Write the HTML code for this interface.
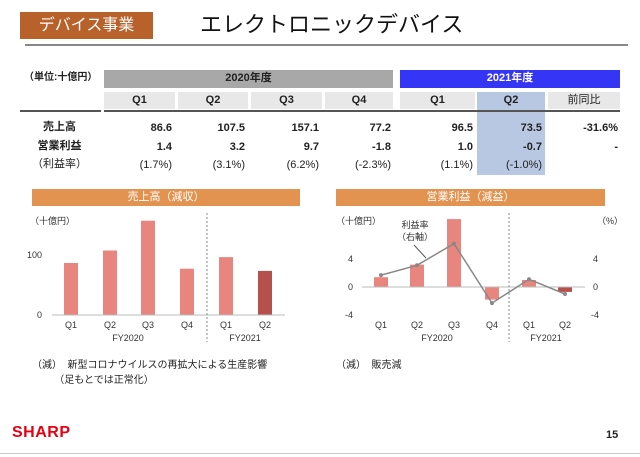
<!DOCTYPE html>
<html><head><meta charset="utf-8"><style>
body{margin:0;width:640px;height:457px;background:#fff;font-family:"Liberation Sans","Noto Sans CJK JP",sans-serif;position:relative;overflow:hidden;color:#222}
.a{position:absolute;white-space:nowrap}
.c{position:absolute;text-align:center;font-size:11px;font-weight:bold;line-height:17px}
.n{position:absolute;text-align:right;font-size:11px;line-height:16px}
</style></head><body>
<div class="a" style="left:20px;top:12px;width:133px;height:27px;background:#b8612a;color:#fff;font-size:16px;line-height:27px;text-align:center">デバイス事業</div>
<div class="a" style="left:200px;top:10px;font-size:22px;line-height:30px;color:#111">エレクトロニックデバイス</div>
<div class="a" style="left:25px;top:44px;width:603px;height:2px;background:#888"></div>

<div class="a" style="left:24px;top:71px;font-size:10px;font-weight:bold;line-height:14px">（単位:十億円）</div>
<div class="c" style="left:104px;top:70px;width:289px;height:18px;background:#a8a8a8;color:#222">2020年度</div>
<div class="c" style="left:400px;top:70px;width:220px;height:18px;background:#3535f5;color:#fff">2021年度</div>
<div class="c" style="left:104px;top:92px;width:71px;background:#e8e8e8">Q1</div>
<div class="c" style="left:178px;top:92px;width:70px;background:#e8e8e8">Q2</div>
<div class="c" style="left:251px;top:92px;width:71px;background:#e8e8e8">Q3</div>
<div class="c" style="left:325px;top:92px;width:68px;background:#e8e8e8">Q4</div>
<div class="c" style="left:400px;top:92px;width:75px;background:#e8e8e8">Q1</div>
<div class="a" style="left:477px;top:92px;width:68px;height:83px;background:#b8c8e2"></div>
<div class="c" style="left:477px;top:92px;width:68px">Q2</div>
<div class="c" style="left:548px;top:92px;width:72px;background:#e8e8e8;font-weight:normal">前同比</div>
<div class="a" style="left:20px;top:110px;width:81px;height:2px;background:#555"></div>
<div class="a" style="left:104px;top:110px;width:516px;height:2px;background:#555"></div>

<div class="c" style="left:22px;top:119px;width:75px">売上高</div>
<div class="c" style="left:22px;top:138px;width:75px">営業利益</div>
<div class="c" style="left:22px;top:156px;width:75px;font-weight:normal">（利益率）</div>

<div style="font-weight:bold">
<div class="n" style="left:104px;top:120px;width:68px;font-weight:bold">86.6</div>
<div class="n" style="left:178px;top:120px;width:67px;font-weight:bold">107.5</div>
<div class="n" style="left:251px;top:120px;width:68px;font-weight:bold">157.1</div>
<div class="n" style="left:325px;top:120px;width:66px;font-weight:bold">77.2</div>
<div class="n" style="left:400px;top:120px;width:73px;font-weight:bold">96.5</div>
<div class="n" style="left:477px;top:120px;width:65px;font-weight:bold">73.5</div>
<div class="n" style="left:548px;top:120px;width:70px">-31.6%</div>
<div class="n" style="left:104px;top:139px;width:68px;font-weight:bold">1.4</div>
<div class="n" style="left:178px;top:139px;width:67px;font-weight:bold">3.2</div>
<div class="n" style="left:251px;top:139px;width:68px;font-weight:bold">9.7</div>
<div class="n" style="left:325px;top:139px;width:66px;font-weight:bold">-1.8</div>
<div class="n" style="left:400px;top:139px;width:73px;font-weight:bold">1.0</div>
<div class="n" style="left:477px;top:139px;width:65px;font-weight:bold">-0.7</div>
<div class="n" style="left:548px;top:139px;width:70px">-</div>
</div>
<div class="n" style="left:104px;top:157px;width:68px">(1.7%)</div>
<div class="n" style="left:178px;top:157px;width:67px">(3.1%)</div>
<div class="n" style="left:251px;top:157px;width:68px">(6.2%)</div>
<div class="n" style="left:325px;top:157px;width:66px">(-2.3%)</div>
<div class="n" style="left:400px;top:157px;width:73px">(1.1%)</div>
<div class="n" style="left:477px;top:157px;width:65px">(-1.0%)</div>

<div class="a" style="left:32px;top:189px;width:268px;height:17px;background:#e39350;color:#fff;font-size:11px;line-height:17px;text-align:center">売上高（減収）</div>
<div class="a" style="left:336px;top:189px;width:269px;height:17px;background:#e39350;color:#fff;font-size:11px;line-height:17px;text-align:center">営業利益（減益）</div>

<svg class="a" style="left:0;top:0" width="640" height="457" font-family="Liberation Sans, Noto Sans CJK JP, sans-serif" font-size="9" fill="#333">
<text x="30" y="224">（十億円）</text>
<text x="42" y="258" text-anchor="end">100</text>
<text x="42" y="318" text-anchor="end">0</text>
<g fill="#e8857f">
<rect x="64" y="263" width="14" height="52"/><rect x="103" y="250.5" width="14" height="64.5"/>
<rect x="141" y="220.7" width="14" height="94.3"/><rect x="180" y="268.7" width="14" height="46.3"/>
<rect x="219" y="257.1" width="14" height="57.9"/></g>
<rect x="258" y="270.9" width="14" height="44.1" fill="#b5504c"/>
<line x1="52" y1="315" x2="285" y2="315" stroke="#bbb"/>
<line x1="207" y1="213" x2="207" y2="342" stroke="#888" stroke-dasharray="2,2"/>
<g text-anchor="middle"><text x="71" y="328">Q1</text><text x="110" y="328">Q2</text><text x="148" y="328">Q3</text><text x="187" y="328">Q4</text><text x="226" y="328">Q1</text><text x="265" y="328">Q2</text>
<text x="128" y="341">FY2020</text><text x="245" y="341">FY2021</text></g>

<text x="336" y="224">（十億円）</text>
<text x="597" y="224">（%）</text>
<text x="353" y="262" text-anchor="end">4</text><text x="353" y="290" text-anchor="end">0</text><text x="353" y="318" text-anchor="end">-4</text>
<text x="593" y="262">4</text><text x="593" y="290">0</text><text x="591" y="318">-4</text>
<g fill="#e8857f">
<rect x="374" y="277.2" width="14" height="9.8"/><rect x="410" y="264.6" width="14" height="22.4"/>
<rect x="447" y="219.1" width="14" height="67.9"/><rect x="485" y="287" width="14" height="12.6"/>
<rect x="522" y="280" width="14" height="7"/></g>
<rect x="558" y="287" width="14" height="4.9" fill="#b5504c"/>
<line x1="362" y1="287" x2="585" y2="287" stroke="#bbb"/>
<line x1="509" y1="213" x2="509" y2="342" stroke="#888" stroke-dasharray="2,2"/>
<polyline points="381,275.1 417,265.3 454,243.6 492,303.1 529,279.3 565,294" fill="none" stroke="#888" stroke-width="1.5"/>
<g fill="#888"><circle cx="381" cy="275.1" r="2"/><circle cx="417" cy="265.3" r="2"/><circle cx="454" cy="243.6" r="2"/><circle cx="492" cy="303.1" r="2"/><circle cx="529" cy="279.3" r="2"/><circle cx="565" cy="294" r="2"/></g>
<text x="415" y="228" text-anchor="middle">利益率</text><text x="415" y="240" text-anchor="middle">（右軸）</text>
<line x1="414" y1="245" x2="426" y2="258" stroke="#555"/>
<g text-anchor="middle"><text x="381" y="328">Q1</text><text x="417" y="328">Q2</text><text x="454" y="328">Q3</text><text x="492" y="328">Q4</text><text x="529" y="328">Q1</text><text x="565" y="328">Q2</text>
<text x="437" y="341">FY2020</text><text x="546" y="341">FY2021</text></g>
</svg>

<div class="a" style="left:32px;top:358px;font-size:10px;line-height:15px">（減）&nbsp; 新型コロナウイルスの再拡大による生産影響<br>&nbsp;&nbsp;&nbsp;&nbsp;&nbsp;&nbsp;&nbsp;&nbsp;（足もとでは正常化）</div>
<div class="a" style="left:336px;top:358px;font-size:10px;line-height:15px">（減）&nbsp; 販売減</div>

<div class="a" style="left:12px;top:424px;font-size:16px;font-weight:bold;color:#e60012;letter-spacing:0.5px">SHARP</div>
<div class="a" style="left:606px;top:429px;font-size:11px;font-weight:bold">15</div>
<div class="a" style="left:0;top:453px;width:640px;height:1px;background:#ccc"></div>
</body></html>
